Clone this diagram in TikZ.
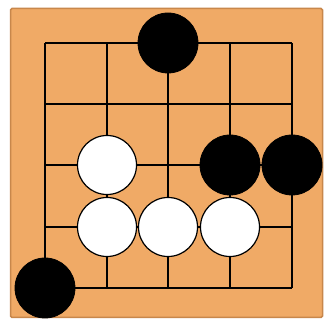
\documentclass[tikz,border=0pt]{standalone}
\definecolor{boardtan}{RGB}{240,170,102}
\definecolor{boardedge}{RGB}{200,135,75}
\tikzset{
  gridline/.style={line width=1.8pt, black},
  blackstone/.style={circle, draw=black, fill=black, line width=0.8pt, minimum size=60pt, inner sep=0pt},
  whitestone/.style={circle, draw=black, fill=white, line width=1.2pt, minimum size=59pt, inner sep=0pt},
}
\begin{document}
\begin{tikzpicture}[x=1pt,y=-1pt]
\useasboundingbox (0,0) rectangle (327,320);
\fill[white] (0,0) rectangle (327,320);
\draw[fill=boardtan, draw=boardedge, line width=1.5pt, rounded corners=1.5pt] (10.5,8.5) rectangle (322.5,317.5);
\foreach \x in {45,107,168,230,292} \draw[gridline] (\x,43) -- (\x,288);
\foreach \y in {43,104,165,227,288} \draw[gridline] (45,\y) -- (292,\y);
\node[blackstone] (b1) at (168,43) {};
\node[blackstone] (b2) at (230,165) {};
\node[blackstone] (b3) at (292,165) {};
\node[blackstone] (b4) at (45,288) {};
\node[whitestone] (w1) at (107,165) {};
\node[whitestone] (w2) at (107,227) {};
\node[whitestone] (w3) at (168,227) {};
\node[whitestone] (w4) at (230,227) {};
\end{tikzpicture}
\end{document}
